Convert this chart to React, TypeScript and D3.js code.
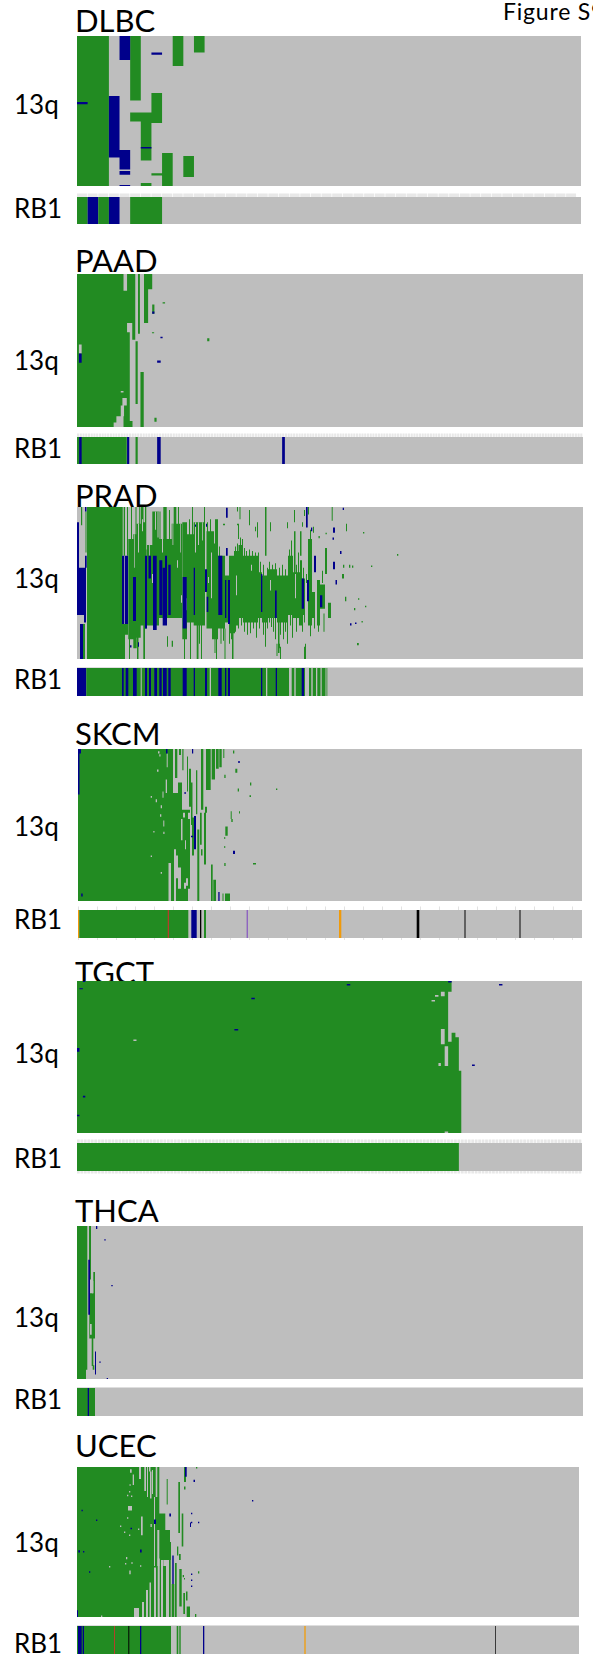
import { scaleLinear, scaleOrdinal, range, path as d3Path } from "d3";

type Seg = [number, number, number, number];
type Run = [number, number, string];

const GREEN = "#228B22";
const BLUE = "#00008B";
const GRAY = "#BEBEBE";

const rowDomain = [0, 100];

// every segment: [first sample, last sample, first row %, last row %] along 13q

// ---------------- DLBC
const dlbcGreen: Seg[] = [
  [0, 3, 0, 100], [5, 6, 0, 43], [5, 8, 51, 57], [7, 8, 38, 58], [6, 7, 57, 83], [6, 7, 98, 100],
  [7, 8, 91.5, 93], [8, 9, 78, 100], [9, 10, 0, 20], [10, 11, 80, 94], [11, 12, 0, 11],
];
const dlbcBlue: Seg[] = [
  [0, 1, 44, 45.5], [3, 4, 40, 81], [4, 5, 0, 16], [4, 5, 76, 89], [4, 5, 90, 92.5], [4, 5, 99.4, 100],
  [6, 7, 74, 75], [7, 8, 11, 12.5],
];
const dlbcGray: Seg[] = [];
const dlbcRb1: Run[] = [[0, 1, "het"], [1, 2, "hom"], [2, 3, "het"], [3, 4, "hom"], [5, 8, "het"]];

// ---------------- PAAD
const paadGreen: Seg[] = [
  [0, 17, 0, 100], [17, 18.3, 11, 100], [18.3, 19.3, 38, 100], [18.3, 20.3, 0, 32], [20.2, 21.3, 0, 43],
  [19.3, 20.3, 96, 100], [22.3, 23, 0, 39], [24.5, 27.5, 0, 10], [24.5, 26, 10, 32], [21.4, 22.2, 44, 85],
  [23.2, 24.4, 64, 100], [27.5, 28.3, 20, 26], [31.3, 32.2, 18.5, 19.2], [27.4, 28.2, 38, 38.8],
  [47.6, 48.4, 42, 44], [28.3, 29.1, 94, 96.5],
];
const paadGray: Seg[] = [
  [0.7, 1.7, 46, 52], [16, 17, 76.5, 77.5], [16.6, 18.2, 81, 86], [16, 17.2, 86, 93], [14.4, 17, 93, 97],
  [13.4, 17, 97, 100], [16, 16.6, 89, 92],
];
const paadBlue: Seg[] = [
  [0.7, 1.7, 52, 58], [27.5, 28.3, 24.5, 26], [30.5, 31.3, 41, 42], [29.3, 30.6, 56.5, 58],
];
const paadRb1: Run[] = [
  [0, 18.2, "het"], [0.8, 1.7, "hom"], [18.3, 19.1, "hom"], [21.4, 22.2, "het"], [29.3, 30.6, "hom"], [75, 76, "hom"],
];

// ---------------- PRAD
const pradGreen: Seg[] = [
  [10, 45, 0, 100], [4, 5.2, 0, 12], [6, 8, 77, 100], [8.5, 9.5, 3, 30],
  [45.3, 46.3, 0, 32], [45, 48, 77, 100], [47, 48, 0, 32], [50, 51, 0, 32], [48, 51, 77, 84],
  [51.3, 56.3, 21, 87], [54, 55, 0, 21], [52, 53, 87, 100], [56.3, 59.7, 18, 93], [58.5, 59.5, 0, 18],
  [59.7, 63.7, 11, 86], [60, 61.5, 86, 100], [62, 62.8, 0, 11], [63.7, 66.3, 0, 78], [66.3, 69.7, 0, 80],
  [66.3, 68, 80, 100], [70, 75.3, 25, 78], [75.3, 82, 3, 78], [82, 94.7, 21, 73], [86.3, 89.7, 0, 21],
  [92, 93, 2, 21], [82.5, 83.5, 3, 21], [94.7, 105, 11, 73], [96.7, 99.3, 0, 12], [101, 102, 0, 11],
  [105.3, 110, 10, 87], [107, 108, 87, 100], [110, 116.7, 18, 76], [113, 114, 76, 100], [115, 116, 0, 18],
  [112, 113, 8, 18], [116.7, 128, 10, 78], [119.7, 121.5, 73, 100], [122, 123, 78, 90], [124, 125, 78, 100],
  [127, 128, 0, 10], [94.7, 96, 88, 92], [90, 91, 85, 92],
  [129.5, 136, 16, 80], [135, 141, 24, 87], [138, 141, 8, 24], [139, 140, 87, 100], [141, 148, 32, 80],
  [148, 153, 45, 76], [152, 158, 32, 83], [155, 156.5, 83, 100], [157, 161.5, 29, 78], [161.5, 166, 25, 73],
  [166, 171, 32, 76], [171, 181, 32, 76], [180, 185, 43, 73], [185, 191, 45, 76], [191, 200, 41, 73],
  [200, 211, 45, 76], [211, 216, 32, 71], [216, 223, 43, 73], [223, 225, 35, 78], [225, 228, 47, 71],
  [231, 235, 21, 78], [235, 238, 56, 73], [240, 243, 48, 78], [243, 248, 51, 67], [251, 254, 63, 73],
  [162.5, 163.5, 0, 8], [188, 189.5, 0, 32], [161, 162, 11, 21], [198, 199, 73, 87], [201, 202.5, 73, 96],
  [206, 207, 73, 87], [217, 218.5, 16, 43], [223, 224.5, 16, 32], [231, 232, 22, 45], [228, 229, 90, 100],
  [248, 250, 27, 44], [254.7, 255.7, 0, 9], [231, 232, 0, 5], [227, 228, 2, 6], [196, 197, 73, 82],
  [245, 246, 42, 50], [246.5, 247.5, 70, 82], [172, 173, 2, 12], [160, 161, 0, 3], [180, 181, 10, 20],
  [193, 194, 10, 16], [199.5, 200.5, 90, 98], [227, 228.5, 92, 100], [203, 204, 92, 100], [217, 218, 2, 10],
  // jagged top of the gain block
  [130, 131, 10, 16], [133, 134, 8, 18], [136, 137, 16, 24], [142, 143, 26, 32], [158, 159, 26, 29], [160, 161, 24, 29],
  [163, 164, 20, 25], [165, 166, 21, 25], [167, 168, 27, 32], [169, 170, 29, 32], [172, 173, 28, 32], [175, 176, 29, 32],
  [178, 179, 30, 32], [181, 182, 30, 43], [183, 184, 36, 43], [186, 187, 38, 45], [190, 191, 40, 45], [192, 193, 36, 41],
  [195, 196, 38, 41], [198, 199, 37, 41], [202, 203, 40, 45], [205, 206, 38, 45], [208, 209, 41, 45], [212, 213, 28, 32],
  [214, 215, 22, 32], [219, 220, 38, 43], [221, 222, 30, 43], [226, 227, 40, 47], [229, 230, 44, 50], [233, 234, 15, 21],
  // jagged bottom
  [137.5, 138.5, 87, 96], [143.5, 144.5, 80, 90], [146, 147, 80, 88], [147.5, 148.5, 80, 100], [152, 153, 83, 90],
  [154, 155, 83, 87], [158, 159, 78, 82], [161, 162, 73, 80], [164, 165, 73, 78], [167, 168, 76, 82], [170, 171, 76, 84],
  [173, 174, 76, 83], [176, 177, 76, 80], [179, 180, 76, 86], [182, 183, 73, 80], [186, 187, 76, 84], [188, 189, 76, 92],
  [190, 191, 76, 80], [192, 193, 73, 76], [194, 195, 73, 79], [203, 204, 76, 84], [208, 209, 76, 82], [210, 211, 76, 90],
  [213, 214, 71, 78], [215, 216, 71, 86], [219, 220, 73, 82], [222, 223, 73, 78], [225, 226, 71, 82], [227, 228, 71, 76],
  [233, 234, 78, 85], [237, 238, 73, 80], [241, 242, 78, 82],
  // stray marks
  [286, 287.3, 16.5, 17.5], [320, 321.3, 31, 32], [294, 295.3, 38.5, 39.5], [281, 282.3, 60, 61],
  [277, 278.3, 66.5, 68], [288, 289.3, 65, 66], [280, 281.8, 89.5, 91], [268, 269.3, 59, 62],
  [284.5, 285.8, 75, 76], [269, 270, 11, 16], [266, 267.3, 38, 40], [272, 273.3, 38, 40], [275, 276.3, 38.5, 40],
  [265, 267, 44, 47], [248.5, 249.8, 17, 18], [241.5, 242.8, 19, 20.5], [202, 203, 90, 93], [210, 211, 10, 14],
  [225, 226, 10, 13], [236, 237, 13, 17], [160, 162, 11, 12], [178, 179, 13, 16], [146, 148, 11, 12],
];
const pradGray: Seg[] = [
  [75, 76, 44, 50], [104, 105, 58, 63], [65, 66, 8, 16], [100, 101, 35, 40], [134, 135, 30, 60],
  [131, 132, 46, 50], [159, 160, 45, 58], [174, 175, 38, 42], [193, 194, 48, 55], [218, 219, 44, 60],
  [109, 110, 60, 68], [66.5, 68, 0, 10], [78, 79, 3, 15], [80.5, 81.5, 3, 20], [72, 72.8, 25, 32], [61, 62, 11, 30],
  [85, 86, 21, 30], [95.5, 96.3, 11, 25], [103, 103.7, 11, 30], [118, 119, 10, 30], [121, 122, 10, 25], [125, 125.8, 10, 22],
  [57, 57.7, 18, 40], [69, 69.6, 0, 28],
];
const pradBlue: Seg[] = [
  [0, 2, 10, 40], [0, 9, 40, 71], [3, 6, 77, 100], [8, 9.5, 0, 3], [8, 9.7, 32, 40],
  [7, 9, 71, 76], [45, 47.3, 32, 77], [48, 51, 32, 77], [56, 59, 46, 75], [68, 70, 32, 80], [71.5, 74, 32, 47],
  [76, 79.7, 32, 81], [82.3, 85.3, 35, 71], [85.7, 90, 40, 78], [88, 90, 32, 40], [91.3, 93.7, 38, 71],
  [105.7, 109.7, 46, 80], [116.7, 118, 40, 71], [128, 130, 41, 56], [129.7, 131.3, 59, 69],
  [141.3, 145.3, 32, 71], [148, 149.3, 48, 73], [151, 153, 48, 77], [184, 185.3, 44, 69], [198, 199.7, 55, 73],
  [224.7, 227, 47, 67], [230, 232, 48, 62], [243, 245.3, 58, 66],
  [149, 150.7, 0.5, 7], [149, 150.7, 27, 32], [229, 230.7, 0, 13.5], [234, 235.3, 13.5, 16], [237, 239, 32, 43],
  [256, 258, 13.5, 17], [255.5, 257, 20, 21.5], [256, 258, 36, 41], [258.5, 260, 48, 51], [263, 264.5, 29, 31],
  [265.7, 267, 0.5, 2], [118, 119, 11.5, 13], [129, 130, 11, 13], [273, 274.5, 76.5, 78],
  [278, 279.5, 76, 77], [53, 54.5, 91, 92.5], [61, 62, 89, 92],
];
const pradRb1: Run[] = [
  [0, 9.3, "hom"], [9.3, 250.3, "het"], [45, 46.7, "hom"], [48.7, 51.3, "hom"], [56, 59.7, "hom"],
  [63.7, 64.7, "none"], [68, 70, "hom"], [72, 74, "hom"], [77.3, 80, "hom"], [82.3, 84.7, "hom"],
  [86, 89.7, "hom"], [91.3, 93.7, "hom"], [105.7, 109.7, "hom"], [116.7, 118, "hom"], [128, 130, "hom"],
  [132.7, 134, "none"], [141.3, 144.7, "hom"], [148, 149.3, "hom"], [151, 153, "hom"], [184, 185.3, "hom"],
  [189, 190.3, "none"], [198.7, 200, "hom"], [212, 214.7, "none"], [217.3, 218.7, "none"], [224.7, 227, "hom"],
  [228, 232, "none"], [234.3, 235.7, "none"], [239, 240.3, "none"], [243.5, 244.7, "none"], [248.5, 249.5, "none"],
];

// ---------------- SKCM
const skcmGreen: Seg[] = [
  [0, 95, 0, 100], [95, 104, 29, 100], [104, 112, 40, 100], [97, 99.3, 0, 19], [101, 103, 0, 4], [104.3, 105.5, 0, 14],
  [100, 104, 22, 30], [109, 110, 5, 28], [111, 113, 13, 38], [113, 114.5, 22, 50], [118, 119.3, 14, 43],
  [123, 125.3, 0, 40], [126, 128, 42, 76], [128, 132.7, 0, 27], [133.7, 137, 0, 20], [138, 140.7, 0, 13],
  [141.3, 143.7, 0, 12], [145.3, 146.3, 0, 6], [155, 156.3, 1, 3], [157.3, 159.3, 13, 15.6], [146.3, 147.6, 17, 19],
  [159.7, 161, 26, 28], [172, 173.3, 22, 24], [171.5, 173, 30.5, 31.5], [198, 199.3, 26, 27], [152.7, 153.7, 41, 46],
  [161, 162, 41, 42.5], [153.3, 154.7, 46, 48], [147.3, 149.7, 51, 57], [146, 147.3, 58, 59], [146, 147.3, 64, 65],
  [146.3, 147.6, 75, 77], [175, 178, 75, 76], [133, 134.7, 76, 100], [135.3, 138, 86, 100], [122, 123.7, 42, 63],
  [119.3, 121.3, 53, 100], [147, 152, 95, 100], [144.5, 145.5, 95, 100], [114, 116, 45, 70], [127, 129, 38, 42],
  [123, 124.5, 66, 70],
];
const skcmGray: Seg[] = [
  [90.5, 93, 75, 100], [96, 98, 66, 100], [98, 100, 70, 85], [103, 104.5, 46, 60], [100, 103, 78, 92],
  [80, 81.5, 1.5, 3], [81.3, 82.5, 3.5, 5], [88.7, 89.7, 3, 12], [79, 80.5, 13.5, 15], [87.7, 89, 20, 29],
  [84.5, 85.5, 28, 32], [72.7, 74, 31, 32], [77.7, 79, 33, 35], [82.7, 84, 37, 39], [82, 83.3, 43, 44.5],
  [85.3, 86.3, 47, 51], [75.3, 76.5, 54, 55], [85.3, 86.5, 54.5, 56], [72.7, 74, 70, 71], [82.7, 84, 81, 82],
  [105, 107, 42, 45], [110, 112, 42, 46], [106, 108, 88, 92], [108, 110, 85, 90], [110, 112, 92, 100],
  [107, 108, 60, 66],
];
const skcmBlue: Seg[] = [
  [0, 3, 0, 3], [0, 1.5, 3, 30], [88, 89.5, 0, 3], [114, 115.2, 0, 3], [116, 118, 44, 66], [160, 162, 8, 9],
  [106.3, 108, 28.5, 29.5], [113, 115, 57, 58], [155, 157, 67, 69], [140.3, 141.6, 94, 100], [3.2, 4.7, 95, 97],
];
const skcmRb1: Run[] = [
  [0, 1.3, "orange"], [1.3, 110.3, "het"], [89.7, 91, "red"], [113.3, 115, "hom"], [115, 118.7, "hom"],
  [122, 123.3, "black"], [126, 128, "het"], [168.7, 169.7, "purple"], [261, 263.3, "orange"],
  [338.7, 341.3, "black"], [386.3, 387.7, "dark"], [441.3, 442.7, "dark"],
];

// ---------------- TGCT
const tgctGreen: Seg[] = [
  [0, 107.3, 0, 100], [107.3, 108.3, 0, 7], [107.3, 108.3, 40, 100], [108.3, 109.4, 34, 59], [109.4, 110.4, 37, 59],
  [108.3, 111.1, 59, 100],
];
const tgctGray: Seg[] = [
  [105.2, 106.3, 7, 10], [103.5, 104.5, 9.2, 10.3], [102.5, 103.5, 12.5, 13.5], [105.2, 106.3, 31.5, 41.6],
  [106.3, 107.3, 43, 56], [104.5, 105.2, 54, 56], [106.3, 107.3, 99, 100], [16.3, 17.2, 38.5, 39.5],
];
const tgctBlue: Seg[] = [
  [78, 79, 2, 3], [107.3, 108.3, 0, 1], [122, 123, 2, 3], [114.2, 115, 55, 56], [0.7, 1.7, 4.7, 5.5], [1.7, 2.4, 0, 0.7],
  [50.4, 51.4, 11, 12], [45.5, 46.6, 31.5, 32.5], [0, 0.7, 44, 46.6], [1.7, 2.4, 75.5, 76.6], [0, 0.7, 88, 89],
];
const tgctRb1: Run[] = [[0, 110.4, "het"]];

// ---------------- THCA
const thcaGreen: Seg[] = [
  [0, 10.3, 0, 94], [0, 9, 94, 100], [12, 14, 0, 35], [16.3, 18, 30, 73.6], [14.7, 16.3, 73.6, 91.5],
  [12.3, 16.3, 44, 73.6], [13, 15, 64, 71], [15.7, 17.3, 91, 94],
];
const thcaGray: Seg[] = [[15, 16.3, 36, 44], [13, 14.7, 64, 71]];
const thcaBlue: Seg[] = [
  [11.3, 13, 22, 58], [18, 19, 82, 97], [19, 20.3, 0, 2], [27.3, 28.7, 8.7, 9.4], [34.3, 35.7, 38.5, 39.3],
  [22.3, 23.7, 88.5, 89.3], [29.7, 31, 99.4, 100],
];
const thcaRb1: Run[] = [[0, 18, "het"], [10.7, 12, "hom"]];

// ---------------- UCEC
const ucecGreen: Seg[] = [
  [0, 77, 0, 100], [77, 92, 66, 100], [77, 78.7, 0, 20], [80.3, 82.3, 0, 42], [78, 80.3, 20, 66], [82.3, 86.3, 31, 66],
  [86.3, 94, 50, 62], [88.3, 93, 42, 55], [92, 93.7, 62, 100], [89.7, 90.7, 8, 25], [86.3, 88.3, 31, 51],
  [101.3, 103, 10, 44], [104.7, 106.3, 31, 53], [107, 109, 0, 10], [107, 108.5, 13, 15], [100, 101.3, 53, 59],
  [102, 103.7, 58, 62], [98, 99.7, 64, 100], [102.3, 104.7, 68, 93], [106.3, 108, 84, 98], [109.7, 113, 93, 100],
  [109, 110.5, 83, 89], [94.7, 97.3, 78, 100], [119, 120.3, 0, 1], [105.7, 107, 72, 73.5], [121, 122.3, 69.5, 71],
  [107, 108, 74, 75], [118, 119.3, 98, 100],
];
const ucecGray: Seg[] = [
  [62, 64, 0, 8], [67.3, 69, 0, 16], [72, 73.5, 0, 3], [73, 74.5, 3, 21], [57, 62, 94, 100], [65, 67, 90, 100],
  [69, 71, 82, 100], [72.5, 74, 77, 100], [77, 79, 67, 100], [80.7, 82.7, 61, 100], [84, 86, 62, 100], [89, 92, 66, 100],
  [53, 54.7, 1.5, 3.8], [55.7, 57, 5, 12], [51, 55, 26, 29], [64, 65.7, 33, 45.5], [73.5, 74.8, 38, 40],
  [49, 50.3, 60, 61.5], [52.3, 53.7, 69, 71.5], [63, 64.3, 65.5, 66.5], [54.3, 55.7, 63.5, 64.5], [48, 49.3, 64, 65],
  [32, 33.3, 66, 67], [50, 51.3, 33.5, 34.5], [43, 44.3, 39, 40], [47, 48.3, 43, 44], [52, 53.3, 45, 46], [61, 62.3, 41, 42],
  [24, 25.3, 99, 100], [52, 53.3, 16, 17], [50, 51.3, 18.5, 19.5], [54, 55.3, 19, 20], [52.5, 53.7, 11.5, 12.5],
  [75, 76, 2, 18], [70, 71, 0, 20],
];
const ucecBlue: Seg[] = [
  [108, 109.7, 0, 6.5], [95.3, 96.7, 59, 78], [77, 79, 35, 38], [92.3, 94, 31, 33], [113, 114, 37, 40],
  [116.5, 118, 8.5, 10], [175, 176.3, 22, 23], [114, 115.3, 30.5, 31.5], [114, 115.3, 36.5, 37.5], [121, 122.3, 36.5, 37.5],
  [114, 115.3, 71, 72], [114, 115.3, 75, 76], [114, 115.3, 79, 80], [0, 1, 95.5, 100], [1.3, 3, 55.5, 57],
  [6, 7.3, 56, 57], [4.5, 5.8, 28.5, 29.5], [19, 20.3, 35, 36], [53.5, 55, 40.5, 41.5], [63, 64.7, 55, 57], [12, 13.3, 69.5, 70.5],
];
const ucecRb1: Run[] = [
  [0, 94, "het"], [1, 4.7, "hom"], [5.7, 7, "hom"], [37, 38, "red"], [51.3, 52.3, "black"], [63, 64.3, "hom"],
  [99.7, 101.3, "het"], [102.3, 103.7, "het"], [126, 127.3, "hom"], [227, 229, "tan"], [418, 419, "dark"],
];

const panelNames = ["DLBC", "PAAD", "PRAD", "SKCM", "TGCT", "THCA", "UCEC"];
const sampleCounts = [47.4, 185, 506, 504, 146, 506, 502];
const greens = [dlbcGreen, paadGreen, pradGreen, skcmGreen, tgctGreen, thcaGreen, ucecGreen];
const grays = [dlbcGray, paadGray, pradGray, skcmGray, tgctGray, thcaGray, ucecGray];
const blues = [dlbcBlue, paadBlue, pradBlue, skcmBlue, tgctBlue, thcaBlue, ucecBlue];
const rb1s = [dlbcRb1, paadRb1, pradRb1, skcmRb1, tgctRb1, thcaRb1, ucecRb1];

const rb1Kinds = ["het", "hom", "none", "red", "black", "dark", "orange", "tan", "purple"];
const rb1Colors = [GREEN, BLUE, GRAY, "#B2402A", "#000000", "#3A3A3A", "#F09A0A", "#E0A848", "#7A3FC0"];
const rb1Color = scaleOrdinal<string, string>().domain(rb1Kinds).range(rb1Colors);

// page layout in pixels, one entry per panel
const lefts = [77, 77, 77, 78, 77, 77, 77];
const rights = [581, 583, 583, 582, 582, 583, 579];
const heatTops = [36, 274, 507, 749, 981, 1226, 1467];
const heatBottoms = [186, 427, 659, 901, 1133, 1379, 1617];
const rbTops = [197, 437, 668, 910, 1143, 1388, 1626];
const rbBottoms = [224, 464, 696, 938, 1171, 1416, 1654];
const titleBaselines = [32, 272, 507, 745, 984, 1222, 1457];
const qBaselines = [114, 370, 588, 836, 1063, 1327, 1552];
const rbBaselines = [218, 458, 689, 929, 1168, 1409, 1653];
const trackStyles = ["dashTop", "dashTop", "line", "sparse", "dashBoth", "line", "line"];

const FONT = "Lato, Carlito, sans-serif";

function Panel({ i }: { i: number }) {
  const x = scaleLinear().domain([0, sampleCounts[i]]).range([lefts[i], rights[i]]);
  const y = scaleLinear().domain(rowDomain).range([heatTops[i], heatBottoms[i]]);
  const rbH = rbBottoms[i] - rbTops[i];
  // all segments of one colour go in a single path so abutting cells leave no seam
  const segPath = (list: Seg[]) => {
    const p = d3Path();
    list.forEach((d) => p.rect(x(d[0]), y(d[2]), x(d[1]) - x(d[0]), y(d[3]) - y(d[2])));
    return p.toString();
  };
  const style = trackStyles[i];
  const band = x(1) - x(0);
  const tickStep = Math.max(1, Math.round(2.8 / band));
  const tickW = Math.max(band, 2.8) - 0.7;
  const w = rights[i] - lefts[i];
  const dashes = range(0, sampleCounts[i], tickStep).filter((s) => x(s) + tickW <= rights[i]);
  const sparse = range(0, sampleCounts[i], 19);
  return (
    <g>
      <rect x={lefts[i]} y={heatTops[i]} width={w} height={heatBottoms[i] - heatTops[i]} fill={GRAY} />
      <path d={segPath(greens[i])} fill={GREEN} />
      <path d={segPath(grays[i])} fill={GRAY} />
      <path d={segPath(blues[i])} fill={BLUE} />

      {(style === "dashTop" || style === "dashBoth") &&
        dashes.map((s) => (
          <rect key={"t" + s} x={x(s)} y={rbTops[i] - 3.5} width={tickW} height={3.5} fill="#E8E8E8" />
        ))}
      {style === "dashBoth" &&
        dashes.map((s) => (
          <rect key={"u" + s} x={x(s)} y={rbBottoms[i]} width={tickW} height={2.5} fill="#E8E8E8" />
        ))}
      {style === "line" && <rect x={lefts[i]} y={rbTops[i] - 1} width={w} height={1} fill="#DEDEDE" />}
      {style === "sparse" &&
        sparse.map((s) => (
          <g key={"s" + s}>
            <rect x={x(s)} y={rbTops[i] - 3.5} width={1} height={3.5} fill="#E2E2E2" />
            <rect x={x(s)} y={rbBottoms[i]} width={1} height={2} fill="#E2E2E2" />
          </g>
        ))}

      <rect x={lefts[i]} y={rbTops[i]} width={w} height={rbH} fill={GRAY} />
      {rb1s[i].map((d, j) => (
        <rect key={"r" + j} x={x(d[0])} width={x(d[1]) - x(d[0])} y={rbTops[i]} height={rbH} fill={rb1Color(d[2])} />
      ))}
    </g>
  );
}

export default function App() {
  return (
    <svg width={593} height={1657} style={{ position: "absolute", left: 0, top: 0, display: "block" }} fontFamily={FONT}>
      <rect width={593} height={1657} fill="#fff" />
      <text x={503} y={20} fontSize={23} letterSpacing={0.8} fill="#000">Figure S9</text>
      {panelNames.map((name, i) => (
        <text key={name} x={75} y={titleBaselines[i]} fontSize={31} fill="#000">{name}</text>
      ))}
      {panelNames.map((name, i) => (
        <Panel key={name} i={i} />
      ))}
      {panelNames.map((name, i) => (
        <g key={name} fontSize={26} fill="#000">
          <text x={14} y={qBaselines[i]}>13q</text>
          <text x={14} y={rbBaselines[i]}>RB1</text>
        </g>
      ))}
    </svg>
  );
}
